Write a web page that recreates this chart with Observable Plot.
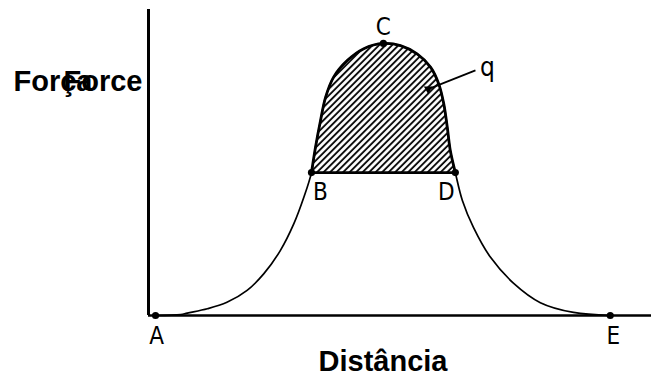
<!DOCTYPE html>
<html>
<head>
<meta charset="utf-8">
<script src="https://cdn.jsdelivr.net/npm/d3@7"></script>
<script src="https://cdn.jsdelivr.net/npm/@observablehq/plot@0.6"></script>
<style>
  html, body { margin: 0; padding: 0; background: #fff; }
  svg { display: block; }
</style>
</head>
<body>
<div id="chart"></div>
<script>
// Curve: force vs distance (arbitrary units 0–100)
const distance = [1.4, 6.4, 7.7, 11.7, 15.6, 19.6, 22.9, 26.2, 28.9, 30.9, 32.4, 33.2, 34.2, 35.2, 36.8, 39.5, 42.8, 46.7, 50.1, 53.4, 56.1, 57.7, 58.7, 59.4, 60.0, 61.0, 62.4, 64.6, 68.0, 72.6, 77.9, 84.5, 91.8];
const force    = [0,   0.3, 0.8, 2.2,  4.3,  8.2,  13.6, 21.2, 30.0, 38.7, 46.7, 55.0, 63.7, 71.3, 77.9, 83.3, 87.2, 88.9, 88.2, 85.5, 81.1, 75.7, 69.2, 61.5, 53.9, 46.7, 37.6, 28.8, 19.0, 10.5, 4.2,  1.0,  0];

// Labelled points
const pointNames    = ["A", "B", "C", "D", "E"];
const pointDistance = [1.4, 32.4, 46.7, 61.0, 91.8];
const pointForce    = [0,   46.7, 88.9, 46.7, 0];

// q annotation: from label to shaded area
const qFrom = [65.0, 80.1];
const qTo   = [55.6, 74.0];

const xLabel = "Distância";
const yLabel = "Força";
const yLabelOriginal = "Force";

const curveData = distance.map((d, i) => ({distance: d, force: force[i]}));
const bIdx = distance.indexOf(pointDistance[1]);
const dIdx = distance.indexOf(pointDistance[3]);
const topPart = curveData.slice(bIdx, dIdx + 1);
const level = pointForce[1];
const pts = pointNames.map((n, i) => ({name: n, distance: pointDistance[i], force: pointForce[i]}));

const defsMark = () => {
  const g = d3.create("svg:g");
  const p = g.append("defs").append("pattern")
    .attr("id", "hatch")
    .attr("patternUnits", "userSpaceOnUse")
    .attr("width", 4.6).attr("height", 4.6)
    .attr("patternTransform", "rotate(45)");
  p.append("line").attr("x1", 1).attr("y1", 0).attr("x2", 1).attr("y2", 4.6)
    .attr("stroke", "#000").attr("stroke-width", 1.8);
  return g.node();
};

const letterFont = "DejaVu Sans Condensed, DejaVu Sans, sans-serif";
const labelFont = "Liberation Sans, Arial, sans-serif";
const ptMap = Object.fromEntries(pts.map(p => [p.name, p]));
const offsets = {A: [1, 28], B: [9, 27], C: [0, -8], D: [-9, 27], E: [3, 28]};

const chart = Plot.plot({
  width: 651,
  height: 376,
  marginLeft: 148,
  marginRight: 0,
  marginTop: 9,
  marginBottom: 61,
  x: {domain: [0, 100], axis: null},
  y: {domain: [0, 100], axis: null},
  style: {background: "#fff", overflow: "visible"},
  marks: [
    defsMark,
    Plot.areaY(topPart, {x: "distance", y1: level, y2: "force", curve: "catmull-rom", fill: "url(#hatch)"}),
    Plot.line(curveData, {x: "distance", y: "force", curve: "catmull-rom", stroke: "#000", strokeWidth: 1.7}),
    Plot.line(topPart, {x: "distance", y: "force", curve: "catmull-rom", stroke: "#000", strokeWidth: 2.8}),
    Plot.link([0], {x1: pointDistance[1], y1: level, x2: pointDistance[3], y2: level, stroke: "#000", strokeWidth: 2.8}),
    Plot.ruleX([0], {stroke: "#000", strokeWidth: 3}),
    Plot.ruleY([0], {stroke: "#000", strokeWidth: 2.5}),
    Plot.dot(pts, {x: "distance", y: "force", r: 3.6, fill: "#000"}),
    ...pointNames.map(n => Plot.text([ptMap[n]], {x: "distance", y: "force", text: "name",
      dx: offsets[n][0], dy: offsets[n][1], lineAnchor: "bottom", fontSize: 24, fontWeight: 200, fontFamily: letterFont, fill: "#000"})),
    Plot.link([0], {x1: qFrom[0], y1: qFrom[1], x2: qTo[0], y2: qTo[1], stroke: "#000", strokeWidth: 1.8}),
    Plot.dot([0], {x: qTo[0], y: qTo[1], r: 3.2, fill: "#000", symbol: "triangle", rotate: -60}),
    Plot.text(["q"], {x: qFrom[0], y: qFrom[1], dx: 12, dy: -3, lineAnchor: "middle", fontSize: 26, fontWeight: 200, fontFamily: letterFont, fill: "#000"}),
    Plot.text([xLabel], {frameAnchor: "bottom", dx: -17, dy: 55, lineAnchor: "bottom", fontSize: 29, fontWeight: "bold", fontFamily: labelFont, fill: "#000"}),
    Plot.text([yLabelOriginal], {frameAnchor: "top-left", dx: -85, dy: 81, textAnchor: "start", lineAnchor: "bottom", fontSize: 29, fontWeight: "bold", fontFamily: labelFont, fill: "#000"}),
    Plot.text([yLabel], {frameAnchor: "top-left", dx: -135, dy: 81, textAnchor: "start", lineAnchor: "bottom", fontSize: 29, fontWeight: "bold", fontFamily: labelFont, fill: "#000"})
  ]
});
document.getElementById("chart").appendChild(chart);
</script>
</body>
</html>
